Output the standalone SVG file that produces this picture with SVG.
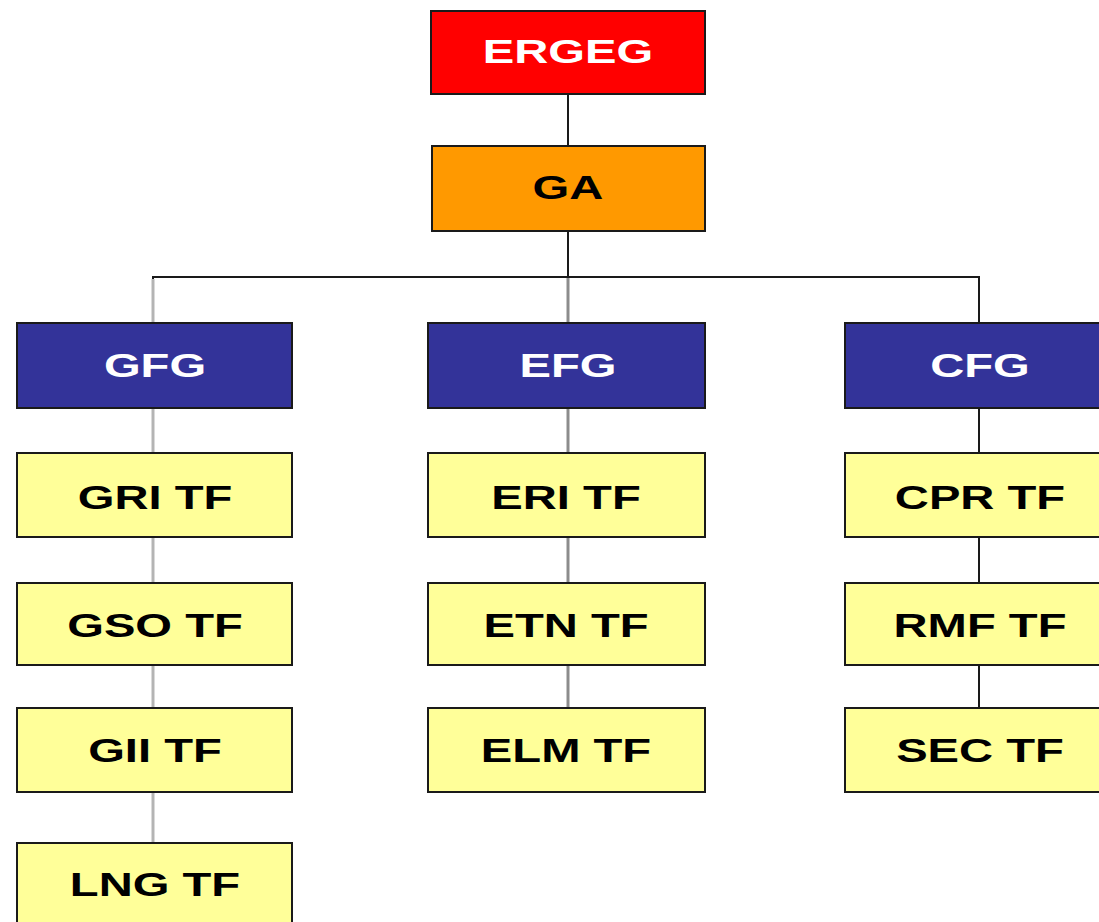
<svg xmlns="http://www.w3.org/2000/svg" width="1099" height="922" viewBox="0 0 1099 922">
<style>
.box{stroke:#1a1a1a;stroke-width:2}
.red{fill:#ff0000}.orange{fill:#ff9900}.blue{fill:#333399}.yellow{fill:#ffff99}
text{font-family:"Liberation Sans",Arial,sans-serif;font-weight:bold;font-size:33px;text-anchor:middle}
.w{fill:#ffffff}.k{fill:#000000}
.cd{stroke:#1a1a1a;stroke-width:2;fill:none}
.cg{stroke:#b4b4b4;stroke-width:3;fill:none}
.cm{stroke:#8c8c8c;stroke-width:3;fill:none}
</style>
<rect width="1099" height="922" fill="#ffffff"/>
<g id="connectors">
<line class="cd" x1="568" y1="94" x2="568" y2="146"/>
<line class="cd" x1="568" y1="231" x2="568" y2="277"/>
<polyline class="cd" points="153,323 153,277 979,277 979,323"/>
<line class="cg" x1="153" y1="279" x2="153" y2="322"/>
<line class="cg" x1="153" y1="408" x2="153" y2="453"/>
<line class="cg" x1="153" y1="537" x2="153" y2="583"/>
<line class="cg" x1="153" y1="665" x2="153" y2="708"/>
<line class="cg" x1="153" y1="792" x2="153" y2="843"/>
<line class="cm" x1="568" y1="278" x2="568" y2="323"/>
<line class="cm" x1="568" y1="408" x2="568" y2="453"/>
<line class="cm" x1="568" y1="537" x2="568" y2="583"/>
<line class="cm" x1="568" y1="665" x2="568" y2="708"/>
<line class="cd" x1="979" y1="408" x2="979" y2="453"/>
<line class="cd" x1="979" y1="537" x2="979" y2="583"/>
<line class="cd" x1="979" y1="665" x2="979" y2="708"/>
</g>
<g id="ERGEG"><rect class="box red" x="431" y="11" width="274" height="83"/><text class="w" transform="translate(568,63) scale(1.43,1)">ERGEG</text></g>
<g id="GA"><rect class="box orange" x="432" y="146" width="273" height="85"/><text class="k" transform="translate(568,199) scale(1.43,1)">GA</text></g>
<g id="GFG"><rect class="box blue" x="17" y="323" width="275" height="85"/><text class="w" transform="translate(155,377) scale(1.43,1)">GFG</text></g>
<g id="EFG"><rect class="box blue" x="428" y="323" width="277" height="85"/><text class="w" transform="translate(568,377) scale(1.43,1)">EFG</text></g>
<g id="CFG"><rect class="box blue" x="845" y="323" width="260" height="85"/><text class="w" transform="translate(980,377) scale(1.43,1)">CFG</text></g>
<g id="GRI_TF"><rect class="box yellow" x="17" y="453" width="275" height="84"/><text class="k" transform="translate(155,509) scale(1.43,1)">GRI TF</text></g>
<g id="GSO_TF"><rect class="box yellow" x="17" y="583" width="275" height="82"/><text class="k" transform="translate(155,637) scale(1.43,1)">GSO TF</text></g>
<g id="GII_TF"><rect class="box yellow" x="17" y="708" width="275" height="84"/><text class="k" transform="translate(155,762) scale(1.43,1)">GII TF</text></g>
<g id="LNG_TF"><rect class="box yellow" x="17" y="843" width="275" height="90"/><text class="k" transform="translate(155,896) scale(1.43,1)">LNG TF</text></g>
<g id="ERI_TF"><rect class="box yellow" x="428" y="453" width="277" height="84"/><text class="k" transform="translate(566,509) scale(1.43,1)">ERI TF</text></g>
<g id="ETN_TF"><rect class="box yellow" x="428" y="583" width="277" height="82"/><text class="k" transform="translate(566,637) scale(1.43,1)">ETN TF</text></g>
<g id="ELM_TF"><rect class="box yellow" x="428" y="708" width="277" height="84"/><text class="k" transform="translate(566,762) scale(1.43,1)">ELM TF</text></g>
<g id="CPR_TF"><rect class="box yellow" x="845" y="453" width="260" height="84"/><text class="k" transform="translate(980,509) scale(1.43,1)">CPR TF</text></g>
<g id="RMF_TF"><rect class="box yellow" x="845" y="583" width="260" height="82"/><text class="k" transform="translate(980,637) scale(1.43,1)">RMF TF</text></g>
<g id="SEC_TF"><rect class="box yellow" x="845" y="708" width="260" height="84"/><text class="k" transform="translate(980,762) scale(1.43,1)">SEC TF</text></g>
</svg>
